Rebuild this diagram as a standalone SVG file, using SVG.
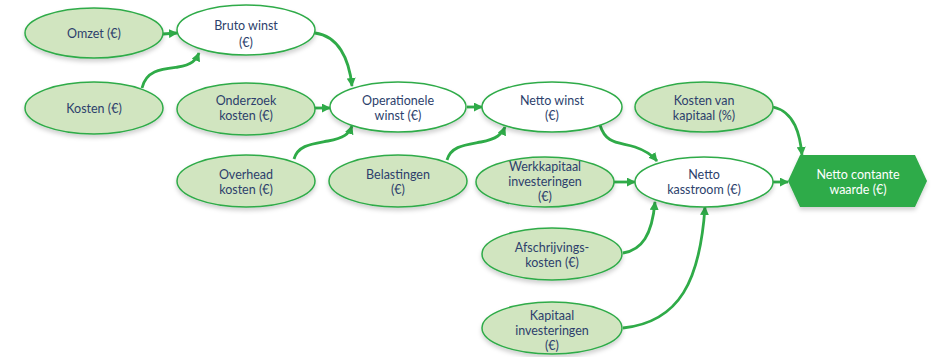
<svg xmlns="http://www.w3.org/2000/svg" width="931" height="357" viewBox="0 0 931 357">
<defs>
<filter id="sh" x="-20%" y="-20%" width="140%" height="160%">
<feDropShadow dx="0" dy="3" stdDeviation="2" flood-color="#000" flood-opacity="0.18"/>
</filter>
<marker id="ah" viewBox="0 0 10 10" refX="9" refY="5" markerWidth="9" markerHeight="9" markerUnits="userSpaceOnUse" orient="auto">
<path d="M0,0 L10,5 L0,10 z" fill="#2fab48"/>
</marker>
<style>
.g{fill:#d1e5c0;stroke:#2fab48;stroke-width:1.5;filter:url(#sh)}
.w{fill:#ffffff;stroke:#2fab48;stroke-width:1.5;filter:url(#sh)}
.t{font-family:Lato,"Open Sans","Liberation Sans",sans-serif;font-size:12.5px;fill:#2d3f6c;text-anchor:middle}
.tw{font-family:Lato,"Open Sans","Liberation Sans",sans-serif;font-size:12.5px;fill:#ffffff;text-anchor:middle}
.c{fill:none;stroke:#2fab48;stroke-width:2.8;marker-end:url(#ah)}
</style>
</defs>
<rect width="931" height="357" fill="#ffffff"/>
<g id="connectors">
<path class="c" d="M163,34 L177,33"/>
<path class="c" d="M142,88 C146,70 162,69 178,67 C192,65 196,60 199,53"/>
<path class="c" d="M315,33 C338,36 349,58 352,86"/>
<path class="c" d="M315,108 L330,108"/>
<path class="c" d="M294,159 C298,145 312,144 328,141 C344,138 349,134 352,126"/>
<path class="c" d="M467,107 L482,107"/>
<path class="c" d="M447,160 C451,146 465,145 481,142 C497,139 502,134 505,127"/>
<path class="c" d="M600,125 C606,145 620,142 635,147 C647,151 652,155 657,161"/>
<path class="c" d="M614,182 L635,182"/>
<path class="c" d="M773,107 C795,112 800,135 802,155"/>
<path class="c" d="M773,182 L788,182"/>
<path class="c" d="M623,253 C642,250 652,235 655,202"/>
<path class="c" d="M623,328 C680,322 700,280 705,207"/>
</g>
<g id="omzet"><ellipse class="g" cx="94" cy="33" rx="69" ry="25"/><text class="t" x="94" y="38">Omzet (€)</text></g>
<g id="bruto"><ellipse class="w" cx="246" cy="30" rx="69" ry="25"/><text class="t" x="246" y="30">Bruto winst</text><text class="t" x="246" y="47">(€)</text></g>
<g id="kosten"><ellipse class="g" cx="94" cy="108" rx="69" ry="26"/><text class="t" x="94" y="113">Kosten (€)</text></g>
<g id="onderzoek"><ellipse class="g" cx="246" cy="109" rx="69" ry="26"/><text class="t" x="246" y="105">Onderzoek</text><text class="t" x="246" y="120">kosten (€)</text></g>
<g id="operationele"><ellipse class="w" cx="398" cy="107" rx="68" ry="25"/><text class="t" x="398" y="105">Operationele</text><text class="t" x="398" y="120">winst (€)</text></g>
<g id="overhead"><ellipse class="g" cx="246" cy="181" rx="69" ry="26"/><text class="t" x="246" y="179">Overhead</text><text class="t" x="246" y="194">kosten (€)</text></g>
<g id="belastingen"><ellipse class="g" cx="398" cy="181" rx="69" ry="26"/><text class="t" x="398" y="179">Belastingen</text><text class="t" x="398" y="194">(€)</text></g>
<g id="nettowinst"><ellipse class="w" cx="552" cy="107" rx="70" ry="25"/><text class="t" x="552" y="105">Netto winst</text><text class="t" x="552" y="120">(€)</text></g>
<g id="kostenkapitaal"><ellipse class="g" cx="704" cy="107" rx="69" ry="25"/><text class="t" x="704" y="105">Kosten van</text><text class="t" x="704" y="120">kapitaal (%)</text></g>
<g id="werkkapitaal"><ellipse class="g" cx="545" cy="182" rx="69" ry="25"/><text class="t" x="545" y="171">Werkkapitaal</text><text class="t" x="545" y="186">investeringen</text><text class="t" x="545" y="201">(€)</text></g>
<g id="kasstroom"><ellipse class="w" cx="704" cy="182" rx="69" ry="25"/><text class="t" x="704" y="179">Netto</text><text class="t" x="704" y="194">kasstroom (€)</text></g>
<g id="ncw"><polygon points="788,181 800,155 915,155 927,181 915,207 800,207" fill="#2fab48" filter="url(#sh)"/><text class="tw" x="858" y="179">Netto contante</text><text class="tw" x="858" y="194">waarde (€)</text></g>
<g id="afschrijvings"><ellipse class="g" cx="552" cy="254" rx="70" ry="26"/><text class="t" x="552" y="252">Afschrijvings-</text><text class="t" x="552" y="267">kosten (€)</text></g>
<g id="kapitaal"><ellipse class="g" cx="552" cy="328" rx="70" ry="26"/><text class="t" x="552" y="320">Kapitaal</text><text class="t" x="552" y="335">investeringen</text><text class="t" x="552" y="350">(€)</text></g>
</svg>
